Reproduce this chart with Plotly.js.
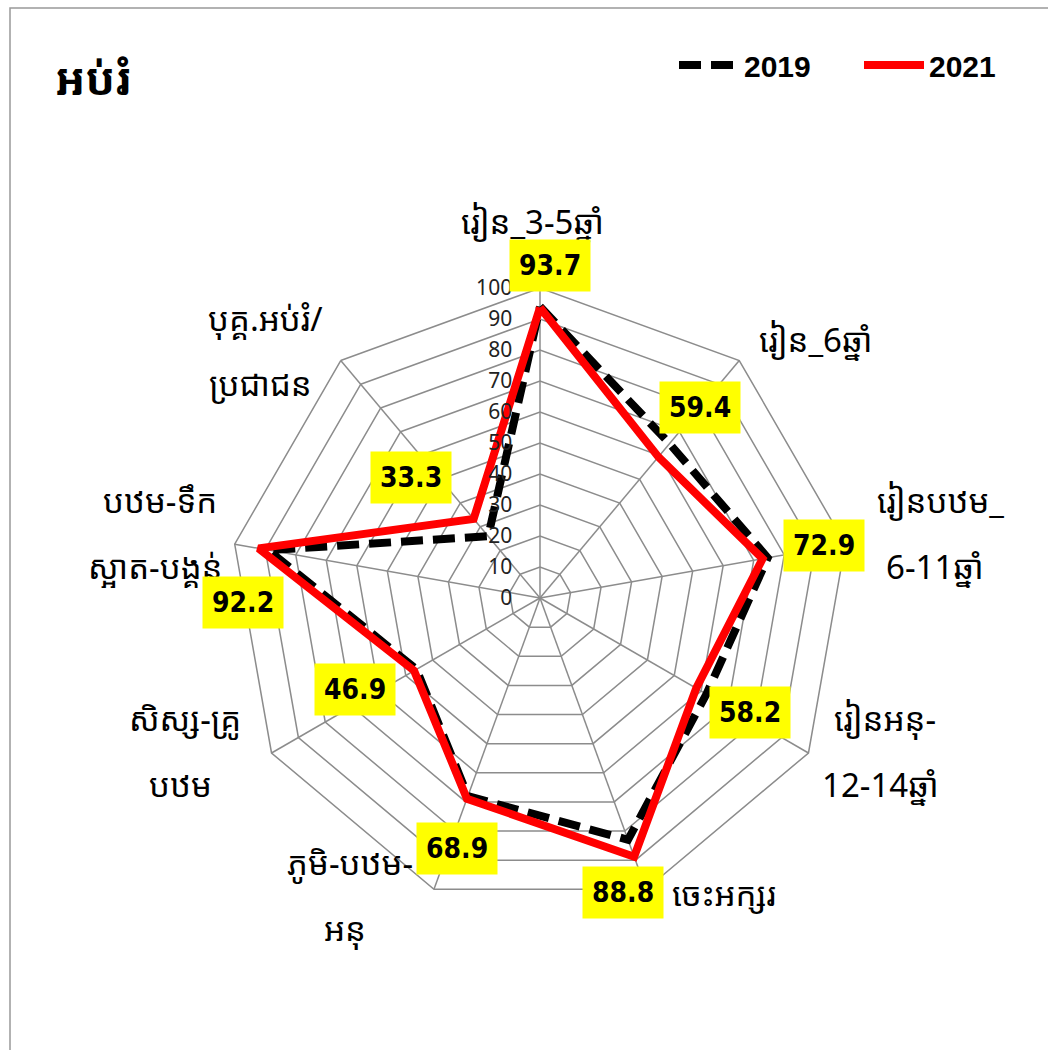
<!DOCTYPE html>
<html>
<head>
<meta charset="utf-8">
<script src="https://cdn.plot.ly/plotly-3.0.1.min.js"></script>
<style>html,body{margin:0;padding:0;background:#fff;}#chart{width:1048px;height:1050px;}</style>
</head>
<body>
<div id="chart"></div>
<script>
// ---- data ----
const categories = [
  'រៀន_3-5ឆ្នាំ',
  'រៀន_6ឆ្នាំ',
  'រៀនបឋម_<br>6-11ឆ្នាំ',
  'រៀនអនុ-<br>12-14ឆ្នាំ',
  'ចេះអក្សរ',
  'ភូមិ-បឋម-<br>អនុ',
  'សិស្ស-គ្រូ<br>បឋម',
  'បឋម-ទឹក<br>ស្អាត-បង្គន់',
  'បុគ្គ.អប់រំ/<br>ប្រជាជន'
];
const values2019 = [94.0, 65.0, 74.6, 62.0, 83.0, 68.0, 46.0, 89.0, 26.0];
const values2021 = [93.7, 59.4, 72.9, 58.2, 88.8, 68.9, 46.9, 92.2, 33.3];
const seriesNames = ['2019', '2021'];
const radialTicks = [0, 10, 20, 30, 40, 50, 60, 70, 80, 90, 100];
const chartTitle = 'អប់រំ';

// ---- layout geometry ----
const W = 1048, H = 1050;
const CX = 540, CY = 598, R = 310;
const khmerFont = "'Noto Sans Khmer', 'Noto Serif Khmer', 'Khmer OS', 'Noto Sans', sans-serif";

function closed(a) { return a.concat([a[0]]); }
const theta = closed(categories);

const traces = [
  {
    type: 'scatterpolar', name: seriesNames[0],
    r: closed(values2019), theta: theta, mode: 'lines',
    line: {color: '#000000', width: 8, dash: '22px,10px'},
    hoverinfo: 'skip'
  },
  {
    type: 'scatterpolar', name: seriesNames[1],
    r: closed(values2021), theta: theta, mode: 'lines',
    line: {color: '#FF0000', width: 8},
    hoverinfo: 'skip'
  }
];

const annotations = [];

// category labels placed outside the grid (one annotation per line)
const catPos = [[532,222],[815,340],[940,500],[885,718],[724,893],[350,862],[185,718],[160,500],[265,318]];
const lineGap = 66;
categories.forEach((c, i) => {
  c.split('<br>').forEach((ln, k) => {
    annotations.push({
      xref: 'paper', yref: 'paper',
      x: (catPos[i][0] - k * 5) / W, y: 1 - (catPos[i][1] + k * lineGap) / H,
      xanchor: 'center', yanchor: 'middle',
      text: ln, showarrow: false,
      font: {family: khmerFont, size: 33, color: '#000'}
    });
  });
});

// value labels (yellow boxes) positioned from the 2021 values
const labelOffsets = [[10,-42],[42,-49],[61,-13],[54,24],[-11,36],[-10,50],[-59,19],[-16,54],[-63,-41]];
values2021.forEach((v, i) => {
  const ang = i * 2 * Math.PI / categories.length;
  const px = CX + R * v / 100 * Math.sin(ang);
  const py = CY - R * v / 100 * Math.cos(ang);
  annotations.push({
    xref: 'paper', yref: 'paper', x: px / W, y: 1 - py / H,
    xanchor: 'center', yanchor: 'middle',
    xshift: labelOffsets[i][0], yshift: -labelOffsets[i][1],
    text: '<b>' + v.toFixed(1) + '</b>', showarrow: false,
    bgcolor: '#FFFF00', borderpad: 9,
    font: {family: "'DejaVu Sans Condensed', 'DejaVu Sans', sans-serif", size: 28, color: '#000'}
  });
});

const layout = {
  width: W, height: H,
  margin: {l: 0, r: 0, t: 0, b: 0, autoexpand: false},
  paper_bgcolor: '#fff',
  showlegend: true,
  title: {
    text: '<b>' + chartTitle + '</b>', x: 55 / W, xanchor: 'left',
    y: 1 - 80 / H, yanchor: 'middle', yref: 'paper',
    font: {family: khmerFont, size: 44, color: '#000'}
  },
  legend: {
    orientation: 'h', x: 674 / W, xanchor: 'left', y: 1 - 39 / H, yanchor: 'top',
    itemwidth: 60, entrywidth: 110, entrywidthmode: 'pixels',
    font: {family: "'Liberation Sans', Arial, sans-serif", size: 30, color: '#000', weight: 'bold'},
    bgcolor: 'rgba(0,0,0,0)'
  },
  polar: {
    domain: {x: [(CX - R) / W, (CX + R) / W], y: [(H - CY - R) / H, (H - CY + R) / H]},
    gridshape: 'linear',
    bgcolor: '#fff',
    angularaxis: {
      rotation: 90, direction: 'clockwise',
      showticklabels: false, ticks: '',
      showline: true, linecolor: '#8c8c8c', linewidth: 1.5,
      gridcolor: '#8c8c8c', gridwidth: 1.5
    },
    radialaxis: {
      range: [0, 100], tickvals: radialTicks, ticktext: radialTicks.map(String),
      angle: 90, side: 'counterclockwise', tickangle: 90,
      showline: false, ticks: 'outside', ticklen: 20, tickcolor: 'rgba(0,0,0,0)',
      gridcolor: '#8c8c8c', gridwidth: 1.5,
      tickfont: {family: "'Noto Sans', sans-serif", size: 21, color: '#222'}
    }
  },
  shapes: [{
    type: 'rect', xref: 'paper', yref: 'paper',
    x0: 10 / W, x1: 1.02, y0: -0.02, y1: 1 - 8 / H,
    line: {color: '#999', width: 1.5}, fillcolor: 'rgba(0,0,0,0)', layer: 'below'
  }],
  annotations: annotations
};

Plotly.newPlot('chart', traces, layout, {staticPlot: true, displayModeBar: false});
</script>
</body>
</html>
